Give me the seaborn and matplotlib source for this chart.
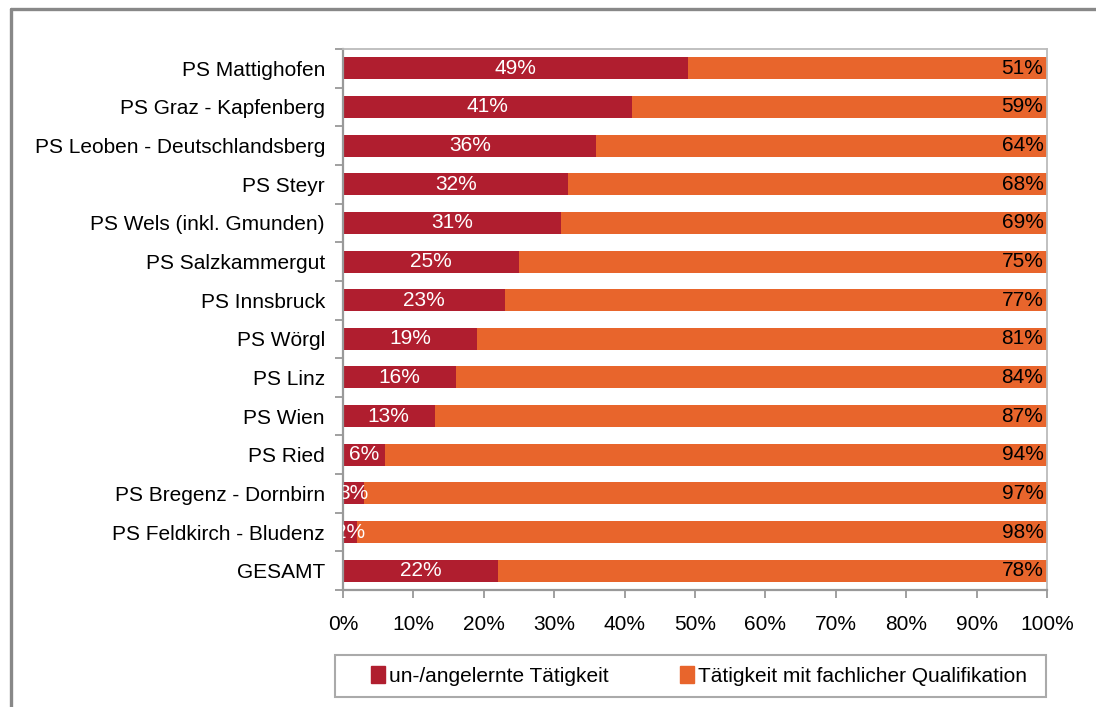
import matplotlib
matplotlib.use("Agg")
import matplotlib.pyplot as plt
import seaborn as sns
import pandas as pd
import numpy as np
from matplotlib.lines import Line2D
from matplotlib.patches import Patch, Rectangle

categories = ["PS Mattighofen", "PS Graz - Kapfenberg", "PS Leoben - Deutschlandsberg",
              "PS Steyr", "PS Wels (inkl. Gmunden)", "PS Salzkammergut", "PS Innsbruck",
              "PS Wörgl", "PS Linz", "PS Wien", "PS Ried", "PS Bregenz - Dornbirn",
              "PS Feldkirch - Bludenz", "GESAMT"]
unskilled = [49, 41, 36, 32, 31, 25, 23, 19, 16, 13, 6, 3, 2, 22]
skilled = [51, 59, 64, 68, 69, 75, 77, 81, 84, 87, 94, 97, 98, 78]
series_names = ["un-/angelernte Tätigkeit", "Tätigkeit mit fachlicher Qualifikation"]
xticks = [0, 10, 20, 30, 40, 50, 60, 70, 80, 90, 100]

RED = "#B01E2F"
ORANGE = "#E8652C"

sns.set_theme(style="white")
plt.rcParams['font.family'] = ['Liberation Sans', 'DejaVu Sans']
plt.rcParams['text.color'] = 'black'
plt.rcParams['xtick.color'] = 'black'
plt.rcParams['ytick.color'] = 'black'

df = pd.DataFrame({"cat": categories, "u": unskilled, "s": skilled})
df["total"] = df["u"] + df["s"]

fig = plt.figure(figsize=(10.96, 7.07), dpi=100)
ax = fig.add_axes([343/1096, 1-590/707, (1047-343)/1096, (590-49)/707])

sns.barplot(data=df, y="cat", x="total", color=ORANGE, orient="h", width=0.57,
            saturation=1, linewidth=0, ax=ax)
sns.barplot(data=df, y="cat", x="u", color=RED, orient="h", width=0.57,
            saturation=1, linewidth=0, ax=ax)

fs = 15
for i, (u, s) in enumerate(zip(unskilled, skilled)):
    ax.text(u/2, i, f"{u}%", ha="center", va="center", color="white", fontsize=fs, clip_on=True)
    ax.text(99.5, i, f"{s}%", ha="right", va="center", color="black", fontsize=fs)

ax.set_xlim(0, 100)
ax.set_ylim(13.5, -0.5)
ax.set_xticks(xticks)
ax.set_xticklabels([f"{t}%" for t in xticks], fontsize=fs)
ax.set_yticks(range(len(categories)))
ax.set_yticklabels(categories, fontsize=fs)
ax.set_yticks(np.arange(-0.5, 14, 1), minor=True)
ax.tick_params(axis="y", which="major", length=0, pad=13)
ax.tick_params(axis="y", which="minor", length=6, color="#999999", width=1.3, direction="out", left=True)
ax.tick_params(axis="x", which="major", length=6, color="#999999", width=1.3, direction="out", bottom=True, pad=12)
ax.set_xlabel("")
ax.set_ylabel("")
for side in ["top", "right"]:
    ax.spines[side].set_color("#BBBBBB")
    ax.spines[side].set_linewidth(1.3)
for side in ["left", "bottom"]:
    ax.spines[side].set_color("#999999")
    ax.spines[side].set_linewidth(1.6)
ax.grid(False)

# Outer figure frame
fig.add_artist(Line2D([10.5/1096, 10.5/1096], [0, 1-8.5/707], color="#888888", lw=2.4, transform=fig.transFigure))
fig.add_artist(Line2D([10.5/1096, 1], [1-8.5/707, 1-8.5/707], color="#888888", lw=2.4, transform=fig.transFigure))

# Legend frame
fig.add_artist(Rectangle((335/1096, 1-697/707), (1046-335)/1096, 42/707, transform=fig.transFigure,
                         facecolor="white", edgecolor="#AAAAAA", lw=1.5))
handles = [Patch(facecolor=RED, edgecolor=RED), Patch(facecolor=ORANGE, edgecolor=ORANGE)]
leg = fig.legend(handles, series_names, loc="center left", ncol=2,
                 bbox_to_anchor=(371/1096, 1-676/707),
                 bbox_transform=fig.transFigure,
                 fontsize=fs, frameon=False, handlelength=0.67, handleheight=0.87,
                 handletextpad=0.2, columnspacing=3.4, borderaxespad=0, borderpad=0)

fig.savefig("out.png", dpi=100)
